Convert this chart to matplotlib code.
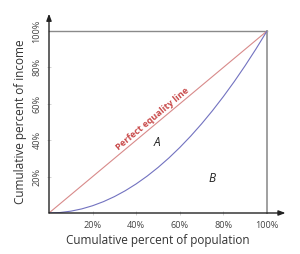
import matplotlib
matplotlib.use("Agg")
import matplotlib.pyplot as plt

# Data
pop_share = [0.0, 0.05, 0.1, 0.15, 0.2, 0.25, 0.3, 0.35, 0.4, 0.45, 0.5, 0.55, 0.6,
             0.65, 0.7, 0.75, 0.8, 0.85, 0.9, 0.95, 1.0]
income_share = [0.0, 0.0025, 0.01, 0.0225, 0.04, 0.0625, 0.09, 0.1225, 0.16, 0.2025,
                0.25, 0.3025, 0.36, 0.4225, 0.49, 0.5625, 0.64, 0.7225, 0.81, 0.9025, 1.0]
equality_x = [0.0, 1.0]
equality_y = [0.0, 1.0]
tick_vals = [0.2, 0.4, 0.6, 0.8, 1.0]
tick_labels = ["20%", "40%", "60%", "80%", "100%"]

plt.rcParams['font.family'] = ['Open Sans', 'DejaVu Sans']

fig = plt.figure(figsize=(3.0, 2.54), dpi=100)
ax = fig.add_axes([49/300, 41/254, 218/300, 182/254])
ax.set_xlim(0, 1)
ax.set_ylim(0, 1)

for s in ax.spines.values():
    s.set_visible(False)

# box top and right
ax.plot([0, 1], [1, 1], color="#8a8a8a", lw=1.0, clip_on=False)
ax.plot([1, 1], [0, 1], color="#a0a0a0", lw=1.4, clip_on=False)

# axes with arrows
ax.annotate("", xy=(1.085, 0), xytext=(0, 0), xycoords="data",
            arrowprops=dict(arrowstyle="-|>,head_length=0.4,head_width=0.15", color="#222222", lw=1.0,
                            shrinkA=0, shrinkB=0), annotation_clip=False)
ax.annotate("", xy=(0, 1.095), xytext=(0, 0), xycoords="data",
            arrowprops=dict(arrowstyle="-|>,head_length=0.4,head_width=0.15", color="#222222", lw=1.0,
                            shrinkA=0, shrinkB=0), annotation_clip=False)

ax.plot(equality_x, equality_y, color="#d88a8a", lw=0.8)
ax.plot(pop_share, income_share, color="#7272c0", lw=0.8)

ax.text(0.475, 0.515, "Perfect equality line", color="#c84848", fontsize=6.6,
        fontweight="bold", rotation=45, rotation_mode="anchor",
        transform_rotates_text=True, ha="center", va="center")
ax.text(0.495, 0.385, "A", fontsize=8.5, style="italic", color="#222222",
        ha="center", va="center")
ax.text(0.748, 0.192, "B", fontsize=8.5, style="italic", color="#222222",
        ha="center", va="center")

ax.set_xticks(tick_vals)
ax.set_xticklabels(tick_labels)
ax.set_yticks(tick_vals)
ax.set_yticklabels(tick_labels, rotation=90, va="center")
ax.tick_params(axis="both", direction="inout", length=3, width=0.6, color="#cccccc",
               labelsize=6.6, labelcolor="#444444", pad=4)
ax.xaxis.get_major_ticks()[-1].tick1line.set_visible(False)
ax.yaxis.get_major_ticks()[-1].tick1line.set_visible(False)

ax.set_xlabel("Cumulative percent of population", fontsize=8.5, color="#333333", labelpad=3)
ax.set_ylabel("Cumulative percent of income", fontsize=8.5, color="#333333", labelpad=4)

fig.savefig("out.png", dpi=100, facecolor="white")
